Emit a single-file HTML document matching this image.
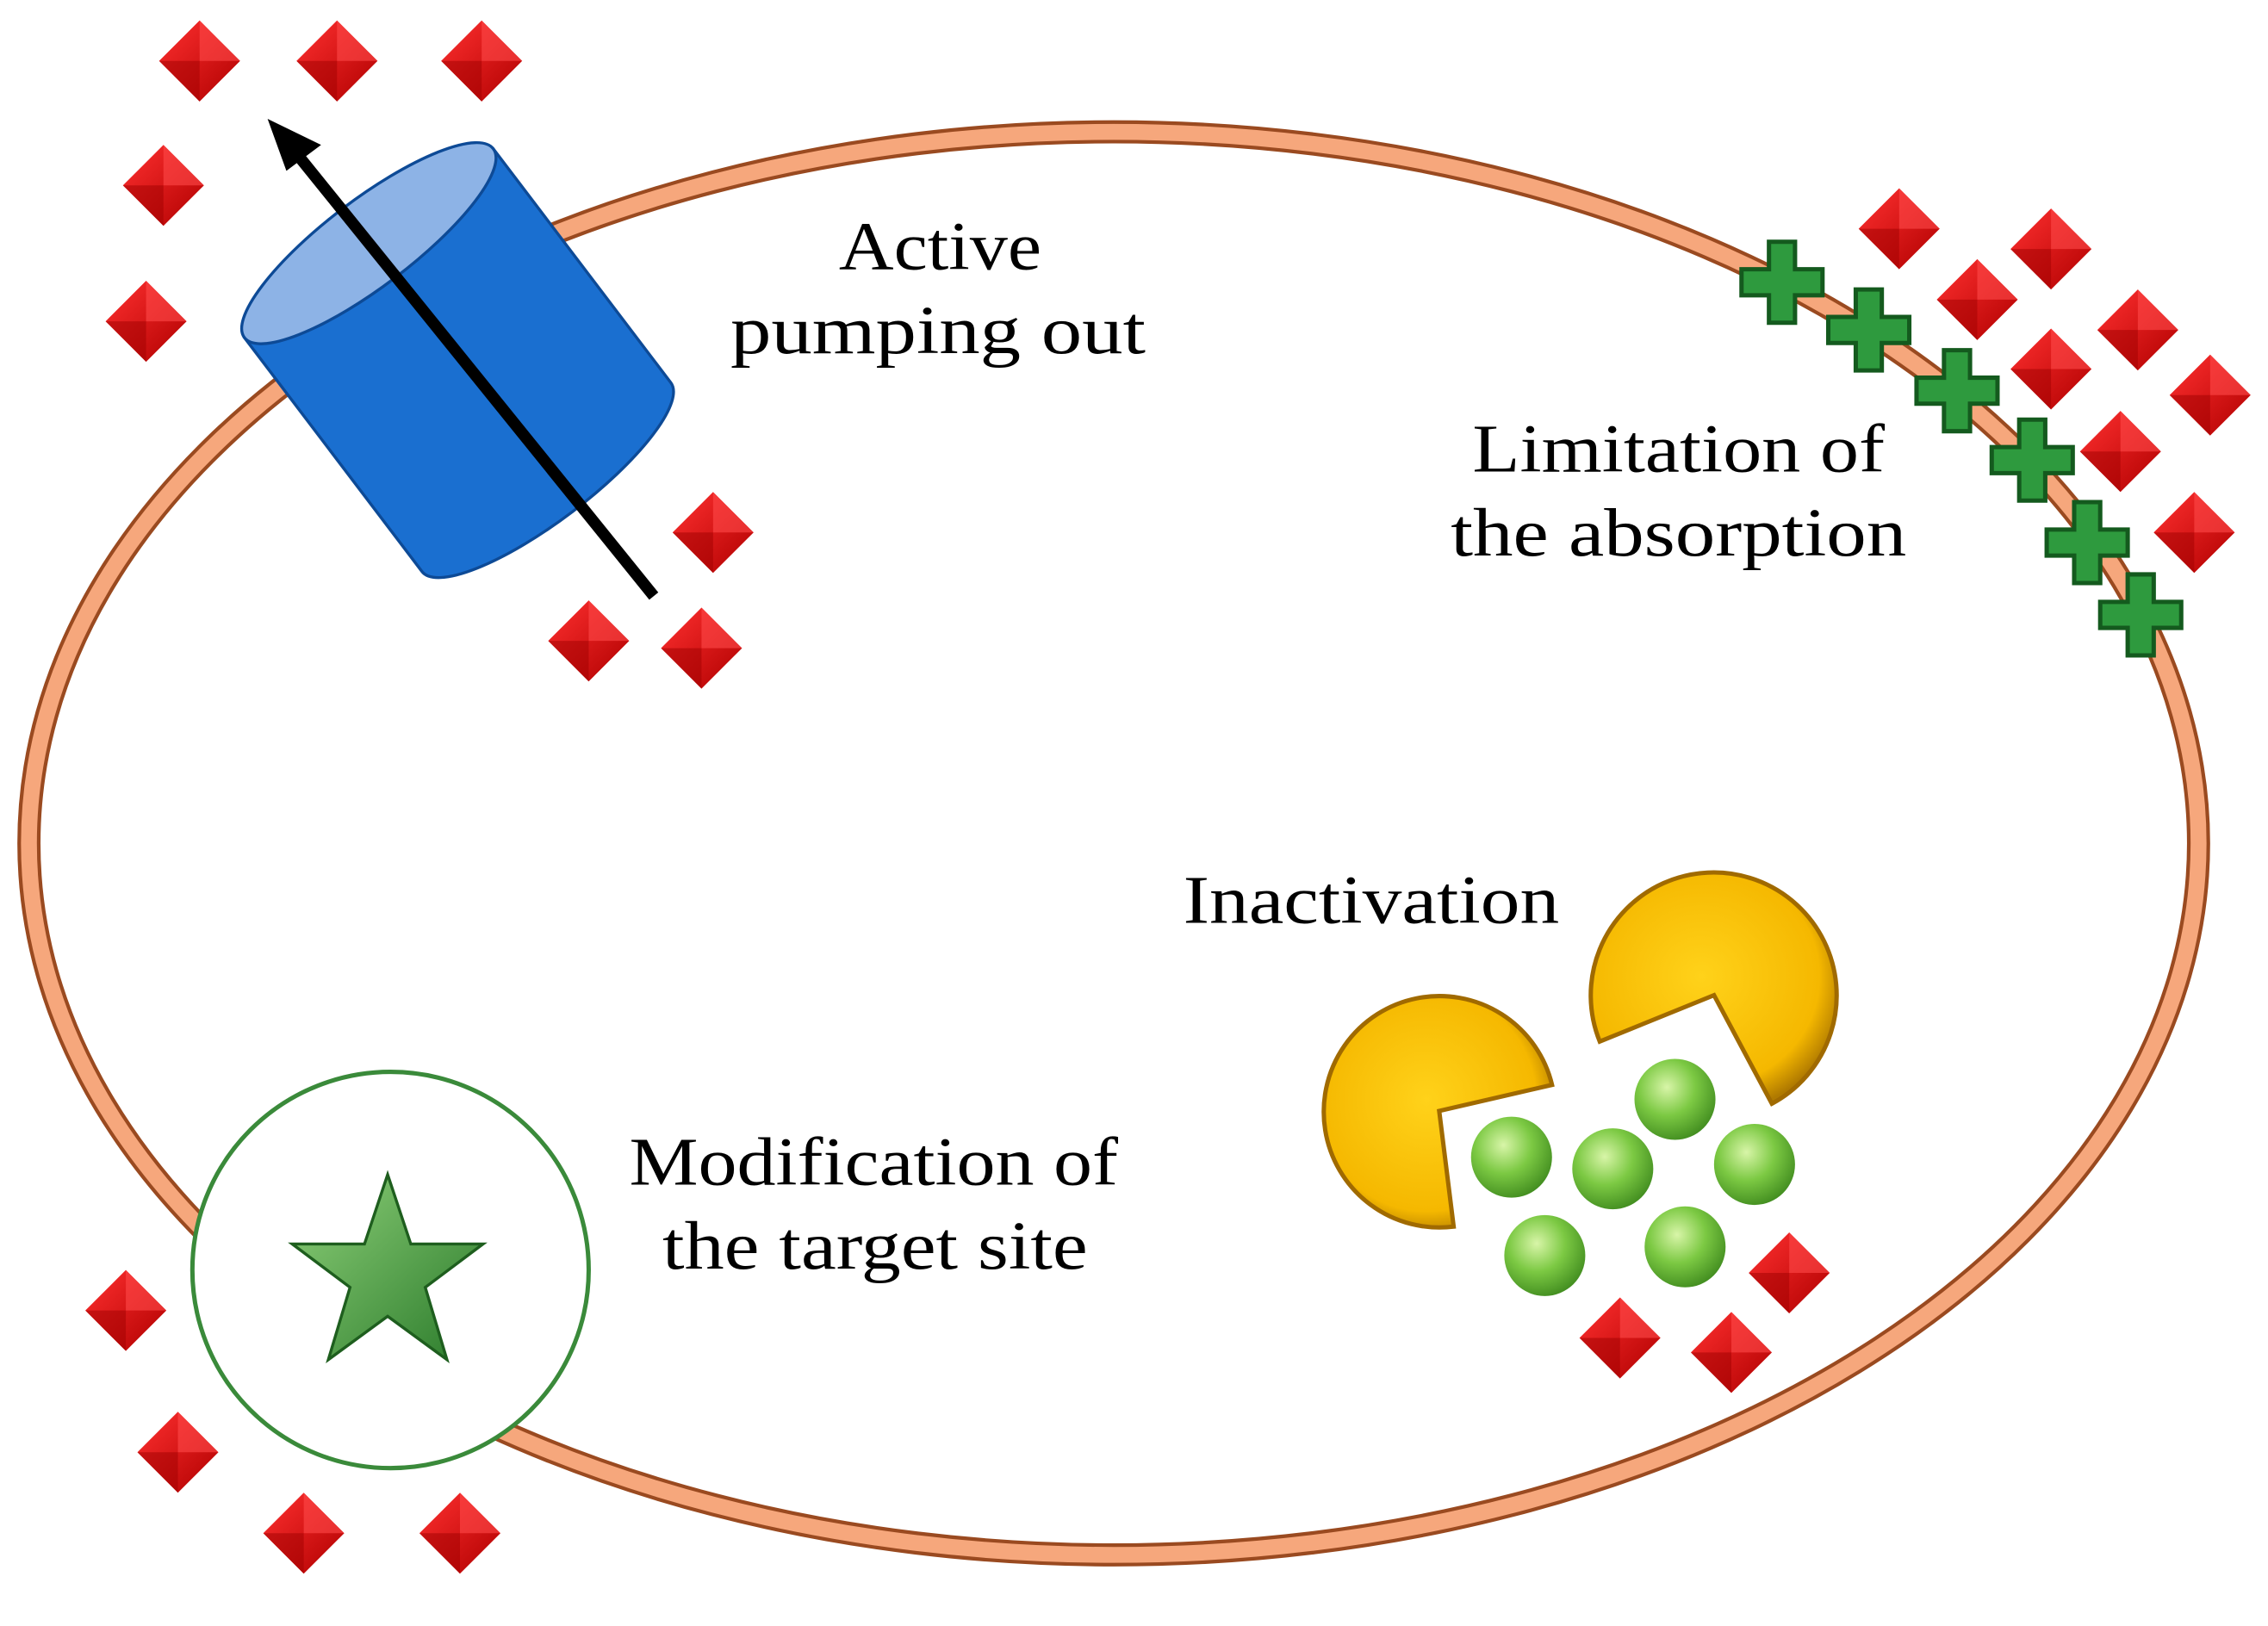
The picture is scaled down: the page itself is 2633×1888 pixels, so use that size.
<!DOCTYPE html>
<html><head><style>html,body{margin:0;padding:0;background:#fff}svg{display:block}</style></head>
<body>
<svg width="2633" height="1888" viewBox="0 0 1568 1124" xmlns="http://www.w3.org/2000/svg">
<defs>
<linearGradient id="dm" x1="0" y1="0" x2="1" y2="1"><stop offset="0" stop-color="#ff3030"/><stop offset="1" stop-color="#b00000"/></linearGradient>
<radialGradient id="ball" cx="0.4" cy="0.35" r="0.7"><stop offset="0" stop-color="#d8f5a8"/><stop offset="0.5" stop-color="#7cc943"/><stop offset="1" stop-color="#3f8a1e"/></radialGradient>
<radialGradient id="pac" cx="0.45" cy="0.45" r="0.6"><stop offset="0" stop-color="#ffd21a"/><stop offset="0.8" stop-color="#f5b800"/><stop offset="1" stop-color="#b07a00"/></radialGradient>
<linearGradient id="star" x1="0" y1="0" x2="1" y2="1"><stop offset="0" stop-color="#8fd17a"/><stop offset="1" stop-color="#2a7a2a"/></linearGradient>
<g id="d"><polygon points="0,-28 28,0 0,28 -28,0" fill="url(#dm)"/><polygon points="0,-28 28,0 0,0" fill="#ff4a4a" opacity="0.6"/><polygon points="0,28 -28,0 0,0" fill="#a00000" opacity="0.5"/></g>
<g id="c"><path d="M-9,-28h18v19h19v18h-19v19h-18v-19h-19v-18h19z" fill="#2e9a3e" stroke="#145a1e" stroke-width="3"/></g>
</defs>
<ellipse cx="770" cy="583" rx="750" ry="492" fill="none" stroke="#9a4a20" stroke-width="16"/>
<ellipse cx="770" cy="583" rx="750" ry="492" fill="none" stroke="#f6a77c" stroke-width="11"/>

<g transform="translate(255,168) rotate(52.8)">
<path d="M0,-108 L203,-108 A30,108 0 0 1 203,108 L0,108 Z" fill="#1a6fd0" stroke="#0d4a96" stroke-width="2"/>
<ellipse cx="0" cy="0" rx="30" ry="108" fill="#8db3e6" stroke="#0d4a96" stroke-width="2"/>
</g>
<line x1="452" y1="412" x2="205" y2="106" stroke="#000" stroke-width="8"/>
<polygon points="185,82 222,100 198,118" fill="#000"/>

<g font-family="'Liberation Serif',serif" font-size="47" fill="#000" lengthAdjust="spacingAndGlyphs">
<text x="580" y="186" textLength="140" lengthAdjust="spacingAndGlyphs">Active</text>
<text x="505" y="244" textLength="287" lengthAdjust="spacingAndGlyphs">pumping out</text>
<text x="1018" y="326" textLength="285" lengthAdjust="spacingAndGlyphs">Limitation of</text>
<text x="1003" y="384" textLength="315" lengthAdjust="spacingAndGlyphs">the absorption</text>
<text x="818" y="638" textLength="260" lengthAdjust="spacingAndGlyphs">Inactivation</text>
<text x="435" y="819" textLength="338" lengthAdjust="spacingAndGlyphs">Modification of</text>
<text x="458" y="877" textLength="294" lengthAdjust="spacingAndGlyphs">the target site</text>
</g>

<circle cx="270" cy="878" r="137" fill="#fff" stroke="#3a8a3a" stroke-width="3"/>
<polygon points="268,812 284,860 334,860 294,890 309,940 268,910 227,940 242,890 202,860 252,860" fill="url(#star)" stroke="#1e5e1e" stroke-width="2"/>

<path d="M995,768 L1073,750 A80,80 0 1 0 1005,848 Z" fill="url(#pac)" stroke="#a06a00" stroke-width="3"/>
<path d="M1185,688 L1225,763 A85,85 0 1 0 1106,720 Z" fill="url(#pac)" stroke="#a06a00" stroke-width="3"/>
<g fill="url(#ball)">
<circle cx="1045" cy="800" r="28"/><circle cx="1158" cy="760" r="28"/><circle cx="1115" cy="808" r="28"/>
<circle cx="1213" cy="805" r="28"/><circle cx="1068" cy="868" r="28"/><circle cx="1165" cy="862" r="28"/>
</g>

<use href="#d" x="138" y="42"/><use href="#d" x="233" y="42"/><use href="#d" x="333" y="42"/>
<use href="#d" x="113" y="128"/><use href="#d" x="101" y="222"/>
<use href="#d" x="493" y="368"/><use href="#d" x="407" y="443"/><use href="#d" x="485" y="448"/>
<use href="#d" x="1313" y="158"/><use href="#d" x="1418" y="172"/><use href="#d" x="1367" y="207"/>
<use href="#d" x="1478" y="228"/><use href="#d" x="1418" y="255"/><use href="#d" x="1528" y="273"/>
<use href="#d" x="1466" y="312"/><use href="#d" x="1517" y="368"/>
<use href="#d" x="1237" y="880"/><use href="#d" x="1120" y="925"/><use href="#d" x="1197" y="935"/>
<use href="#d" x="87" y="906"/><use href="#d" x="123" y="1004"/><use href="#d" x="210" y="1060"/><use href="#d" x="318" y="1060"/>

<use href="#c" x="1232" y="195"/><use href="#c" x="1292" y="228"/><use href="#c" x="1353" y="270"/>
<use href="#c" x="1405" y="318"/><use href="#c" x="1443" y="375"/><use href="#c" x="1480" y="425"/>
</svg>
</body></html>
